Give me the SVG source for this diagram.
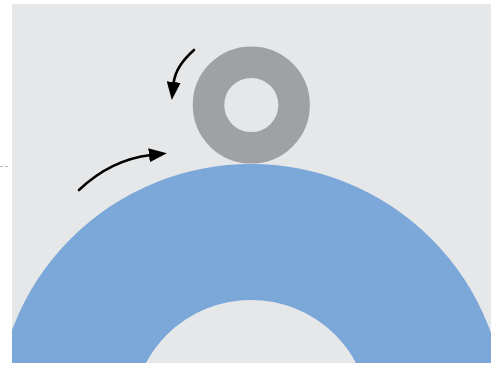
<svg xmlns="http://www.w3.org/2000/svg" width="498" height="365" viewBox="0 0 498 365">
  <style>
    .bg { fill: #E6E7E8; }
    .arrow { fill: none; stroke: #000; stroke-width: 2.6; stroke-linecap: round; }
  </style>
  <defs>
    <clipPath id="frame">
      <rect x="12" y="4" width="479" height="359"/>
    </clipPath>
    <marker id="head" viewBox="0 0 18 14" refX="2" refY="7" markerWidth="18" markerHeight="14" markerUnits="userSpaceOnUse" orient="auto">
      <path d="M0,0 L18,7 L0,14 z" fill="#000"/>
    </marker>
  </defs>
  <rect x="0" y="0" width="498" height="365" fill="#FFFFFF"/>
  <line x1="0" y1="166.5" x2="9" y2="166.5" stroke="#B8B8B8" stroke-width="1" stroke-dasharray="3,2"/>
  <rect class="bg" x="12" y="4" width="479" height="359"/>
  <g id="big-ring" clip-path="url(#frame)">
    <circle cx="251" cy="419" r="187" fill="none" stroke="#7BA7D9" stroke-width="136"/>
  </g>
  <g id="wheel">
    <circle cx="251.3" cy="105" r="42.8" fill="none" stroke="#A0A1A4" stroke-width="31.5"/>
  </g>
  <g id="connectors">
    <path class="arrow" d="M194,50 C183,60 175,70 173.5,84" marker-end="url(#head)"/>
    <path class="arrow" d="M79,190 C100,170 125,158 151,155" marker-end="url(#head)"/>
  </g>
</svg>
